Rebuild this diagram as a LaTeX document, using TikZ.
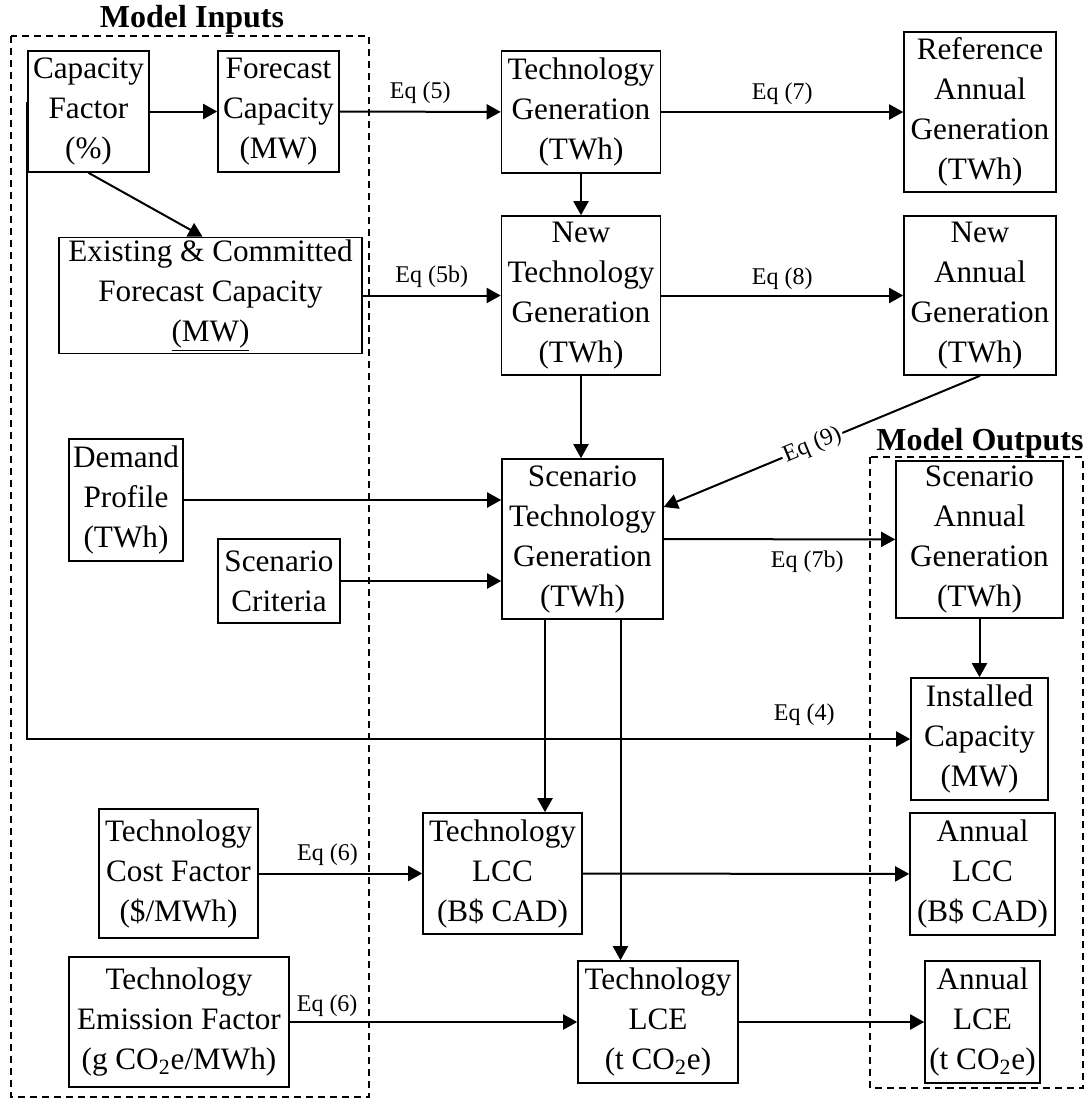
\documentclass[tikz,border=0pt]{standalone}
\usepackage{fontspec}
\setmainfont{Liberation Serif}
\usetikzlibrary{arrows.meta}

\begin{document}
\begin{tikzpicture}[x=0.5pt, y=-0.5pt, >={Triangle[length=7pt,width=7.5pt]}, line width=1pt,
  block/.style={draw, line width=0.8pt, align=center, inner sep=1pt, font=\fontsize{15.6}{20}\selectfont},
  boxsize/.style 2 args={minimum width=#1*0.5pt, minimum height=#2*0.5pt},
  eqlabel/.style={font=\fontsize{12}{14}\selectfont},
  groupbox/.style={draw, line width=1.2pt, dash pattern=on 3.5pt off 2.5pt},
  grouptitle/.style={font=\fontsize{16}{18}\selectfont\bfseries}]

\useasboundingbox (0,0) rectangle (1088,1099);

% Dashed groups for inputs and outputs
\draw[groupbox] (11,36) rectangle (369,1097);
\draw[groupbox] (870,457) rectangle (1083,1088);
\node[grouptitle] (intitle) at (192,20) {Model Inputs};
\node[grouptitle] (outtitle) at (980,443) {Model Outputs};

% Boxes
\node[block, boxsize={121}{121}] (capfac) at (88.5,111.5) {Capacity\\Factor\\(\%)};
\node[block, boxsize={121}{121}] (forecap) at (278.5,111.5) {Forecast\\Capacity\\(MW)};
\node[block, boxsize={159}{122}] (techgen) at (581,112) {Technology\\Generation\\(TWh)};
\node[block, boxsize={152}{160}] (refgen) at (980,112) {Reference\\Annual\\Generation\\(TWh)};
\node[block, boxsize={303}{113}] (existcap) at (210.5,295.5) {Existing \& Committed\\Forecast Capacity\\\underline{(MW)}};
\node[block, boxsize={159}{159}] (newtech) at (581,295.5) {New\\Technology\\Generation\\(TWh)};
\node[block, boxsize={152}{159}] (newann) at (980,295.5) {New\\Annual\\Generation\\(TWh)};
\node[block, boxsize={114}{122}] (demand) at (126,500) {Demand\\Profile\\(TWh)};
\node[block, boxsize={122}{84}] (scencrit) at (279,581) {Scenario\\Criteria};
\node[block, boxsize={161}{160}] (scentech) at (582.5,539) {Scenario\\Technology\\Generation\\(TWh)};
\node[block, boxsize={167}{157}] (scenann) at (979.5,539.5) {Scenario\\Annual\\Generation\\(TWh)};
\node[block, boxsize={137}{122}] (instcap) at (979.5,739) {Installed\\Capacity\\(MW)};
\node[block, boxsize={159}{129}] (costfac) at (178.5,873.5) {Technology\\Cost Factor\\(\$/MWh)};
\node[block, boxsize={159}{121}] (techlcc) at (502.5,873.5) {Technology\\LCC\\(B\$ CAD)};
\node[block, boxsize={145}{122}] (annlcc) at (982.5,874) {Annual\\LCC\\(B\$ CAD)};
\node[block, boxsize={220}{130}] (emisfac) at (179,1022) {Technology\\Emission Factor\\(g CO\textsubscript{2}e/MWh)};
\node[block, boxsize={160}{122}] (techlce) at (658,1022) {Technology\\LCE\\(t CO\textsubscript{2}e)};
\node[block, boxsize={115}{122}] (annlce) at (982.5,1022) {Annual\\LCE\\(t CO\textsubscript{2}e)};

% Connectors
\draw[->] (capfac) -- (forecap);
\draw[->] (forecap) -- node[eqlabel, above] {Eq (5)} (techgen);
\draw[->] (techgen) -- node[eqlabel, above] {Eq (7)} (refgen);
\draw[->] (techgen) -- (newtech);
\draw[->] (capfac.south) -- ([xshift=-4pt]existcap.north);
\draw[->] (existcap) -- node[eqlabel, above] {Eq (5b)} (newtech);
\draw[->] (newtech) -- node[eqlabel, above=-1pt] {Eq (8)} (newann);
\draw[->] (newtech) -- (newtech |- scentech.north);
\draw[->] (newann.south) -- node[eqlabel, sloped, fill=white, inner sep=1pt, pos=0.53] {Eq (9)} ([yshift=16pt]scentech.east);
\draw[->] (demand) -- (demand -| scentech.west);
\draw[->] (scencrit) -- (scencrit -| scentech.west);
\draw[->] (scentech) -- node[eqlabel, below=2pt, pos=0.62] {Eq (7b)} (scenann);
\draw[->] (scenann) -- (instcap);
\draw[->] ([yshift=5pt]capfac.west) |- node[eqlabel, above=3pt, pos=0.94] {Eq (4)} (instcap);
\draw[->] ([xshift=-18.75pt]scentech.south) -- ([xshift=-18.75pt]scentech.south |- techlcc.north);
\draw[->] ([xshift=19pt]scentech.south) -- ([xshift=19pt]scentech.south |- techlce.north);
\draw[->] (costfac) -- node[eqlabel, above, pos=0.42] {Eq (6)} (techlcc);
\draw[->] (techlcc) -- (annlcc);
\draw[->] (emisfac) -- node[eqlabel, above=-1pt, pos=0.13] {Eq (6)} (techlce);
\draw[->] (techlce) -- (annlce);

\end{tikzpicture}
\end{document}
